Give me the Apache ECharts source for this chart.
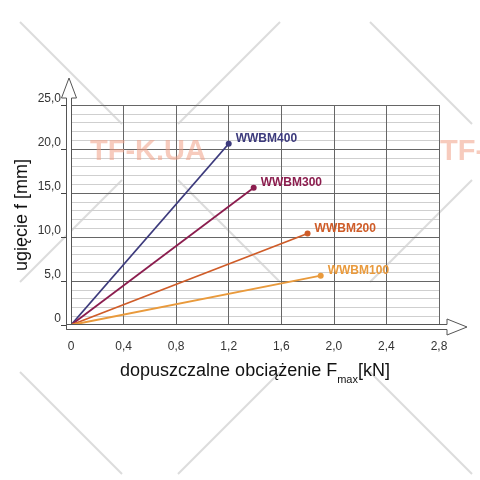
<!DOCTYPE html>
<html>
<head>
<meta charset="utf-8">
<script src="https://cdn.jsdelivr.net/npm/echarts@6/dist/echarts.min.js"></script>
<style>
  html, body { margin: 0; padding: 0; background: #fff; }
  #chart { width: 480px; height: 480px; }
</style>
</head>
<body>
<div id="chart"></div>
<script>
// beam types and their end points (load kN, deflection mm)
const beamNames = ["WWBM400", "WWBM300", "WWBM200", "WWBM100"];
const maxLoad = [1.2, 1.39, 1.8, 1.9];
const maxDeflection = [20.6, 15.6, 10.4, 5.6];
const beamColors = ["#3c3a7c", "#8b1d4e", "#cf5c28", "#e99a3c"];

const xTicks = [0, 0.4, 0.8, 1.2, 1.6, 2.0, 2.4, 2.8];
const yTicks = [0, 5, 10, 15, 20, 25];

const FONT = "'Liberation Sans', Arial, sans-serif";
const fmt = (v) => (v === 0 ? "0" : v.toFixed(1).replace(".", ","));

const chart = echarts.init(document.getElementById("chart"));

const series = beamNames.map((name, i) => ({
  name: name,
  type: "line",
  showSymbol: true,
  symbol: "circle",
  symbolSize: 6,
  lineStyle: { color: beamColors[i], width: 1.8 },
  itemStyle: { color: beamColors[i] },
  z: 5,
  data: [
    { value: [0, 0], symbol: "none", label: { show: false } },
    {
      value: [maxLoad[i], maxDeflection[i]],
      label: {
        show: true,
        position: "right",
        distance: 4,
        offset: [0, -5],
        formatter: name,
        color: beamColors[i],
        fontFamily: FONT,
        fontWeight: "bold",
        fontSize: 12,
      },
    },
  ],
}));

const option = {
  animation: false,
  backgroundColor: "#fff",
  grid: { left: 71, right: 41, top: 105, bottom: 155 },
  xAxis: {
    type: "value",
    min: xTicks[0],
    max: xTicks[xTicks.length - 1],
    interval: 0.4,
    axisLine: { show: false },
    axisTick: { show: false },
    splitLine: { show: true, lineStyle: { color: "#666", width: 1 } },
    axisLabel: {
      margin: 16,
      color: "#333",
      fontFamily: FONT,
      fontSize: 12,
      formatter: fmt,
    },
    name: "{a|dopuszczalne obciążenie F}{s|max}{a|[kN]}",
    nameLocation: "middle",
    nameGap: 32,
    nameTextStyle: {
      rich: {
        a: { fontSize: 18, fontFamily: FONT, color: "#111", lineHeight: 28, verticalAlign: "middle" },
        s: { fontSize: 11, fontFamily: FONT, color: "#111", lineHeight: 28, verticalAlign: "bottom" },
      },
    },
  },
  yAxis: {
    type: "value",
    min: yTicks[0],
    max: yTicks[yTicks.length - 1],
    interval: 5,
    axisLine: { show: false },
    axisTick: { show: true, length: 10, lineStyle: { color: "#444" } },
    splitLine: { show: true, lineStyle: { color: "#666", width: 1 } },
    minorTick: { show: false, splitNumber: 5 },
    minorSplitLine: { show: true, lineStyle: { color: "#cfcfcf", width: 1 } },
    axisLabel: {
      margin: 10,
      color: "#333",
      fontFamily: FONT,
      fontSize: 12,
      verticalAlign: "bottom",
      formatter: fmt,
    },
    name: "ugięcie f [mm]",
    nameLocation: "middle",
    nameGap: 40,
    nameMoveOverlap: false,
    nameTextStyle: { fontSize: 18, fontFamily: FONT, color: "#111" },
  },
  series: series,
};
chart.setOption(option);

// axis arrows and watermark, positioned from the grid extents
const o = chart.convertToPixel({ gridIndex: 0 }, [0, 0]);
const e = chart.convertToPixel({ gridIndex: 0 }, [2.8, 25]);
const L = o[0] - 4.5, R = o[0] + 0.5, T = o[1] - 0.5, B = o[1] + 4.5;
const yc = (T + B) / 2, xc = (L + R) / 2;

const graphics = [];
// watermark X lines (tiled)
const centers = [[150, 152], [500, 152], [150, 502], [500, 502], [-200, 152]];
centers.forEach((c) => {
  [[-1, -1], [1, -1], [-1, 1], [1, 1]].forEach((d) => {
    graphics.push({
      type: "line",
      z: -10,
      silent: true,
      shape: { x1: c[0] + d[0] * 28, y1: c[1] + d[1] * 28, x2: c[0] + d[0] * 130, y2: c[1] + d[1] * 130 },
      style: { stroke: "#dcdcdc", lineWidth: 2 },
    });
  });
});
[[148, 152], [498, 152]].forEach((c) => {
  graphics.push({
    type: "text",
    z: 10,
    silent: true,
    x: c[0],
    y: c[1],
    style: {
      text: "TF-K.UA",
      align: "center",
      verticalAlign: "middle",
      fill: "rgba(240,160,135,0.55)",
      font: "bold 29px " + FONT,
    },
  });
});
// y-axis hollow arrow
graphics.push({
  type: "polygon",
  z: 20,
  shape: {
    points: [
      [L, B], [L, e[1] - 7], [xc - 7.5, e[1] - 7], [xc, e[1] - 27],
      [xc + 7.5, e[1] - 7], [R, e[1] - 7], [R, T],
    ],
  },
  style: { fill: "#fff", stroke: "#555", lineWidth: 1 },
});
// x-axis hollow arrow
graphics.push({
  type: "polygon",
  z: 21,
  shape: {
    points: [
      [L, T], [e[0] + 8, T], [e[0] + 8, yc - 8], [e[0] + 28, yc],
      [e[0] + 8, yc + 8], [e[0] + 8, B], [L, B],
    ],
  },
  style: { fill: "#fff", stroke: "#555", lineWidth: 1 },
});
chart.setOption({ graphic: { elements: graphics } });
</script>
</body>
</html>
